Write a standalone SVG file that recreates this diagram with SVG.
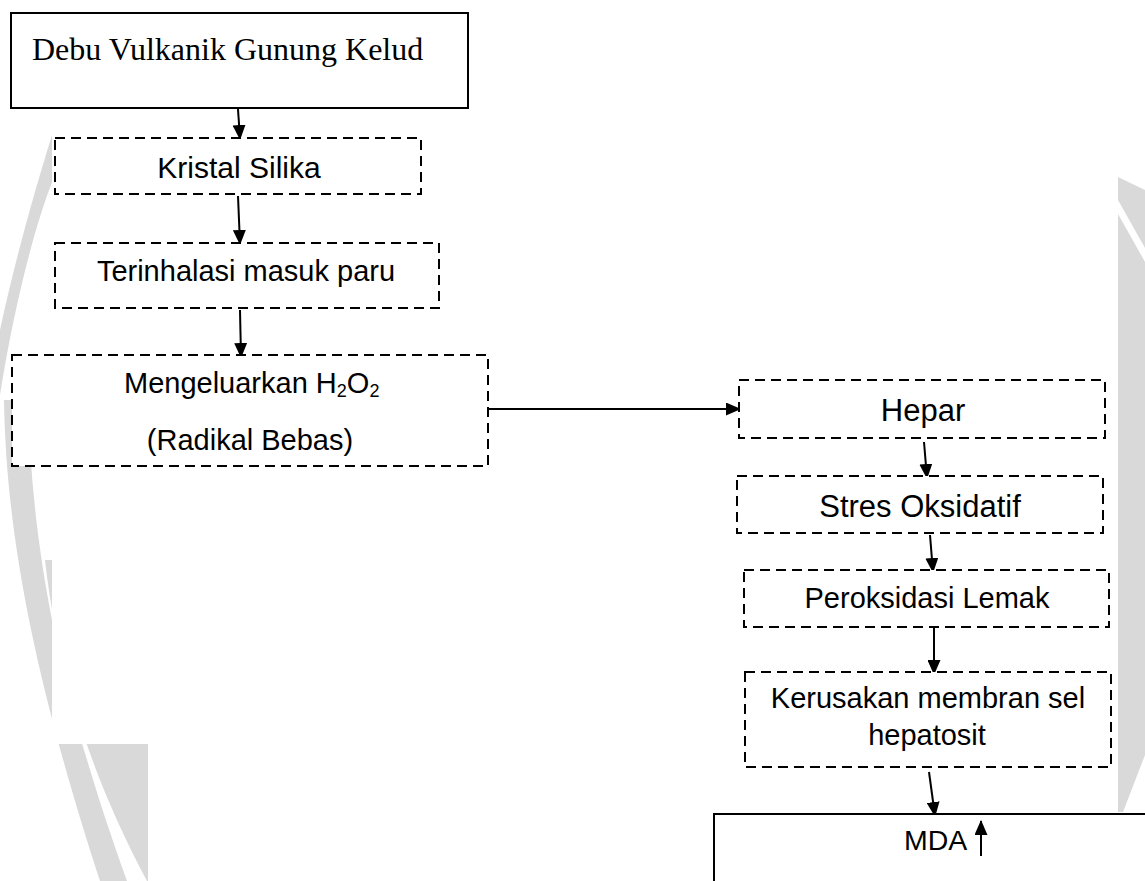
<svg xmlns="http://www.w3.org/2000/svg" width="1145" height="881" viewBox="0 0 1145 881">
  <defs>
    <style>
      .box { fill: #ffffff; stroke: #000000; stroke-width: 2; }
      .dash { fill: #ffffff; stroke: #000000; stroke-width: 2; stroke-dasharray: 10 6; }
      .sans { font-family: "Liberation Sans", Arial, sans-serif; fill: #000000; }
      .serif { font-family: "Liberation Serif", "Times New Roman", serif; fill: #000000; }
      .conn { stroke: #000000; stroke-width: 2; fill: none; marker-end: url(#arrow); }
      .wm { fill: #d9d9d9; }
    </style>
    <marker id="arrow" markerUnits="userSpaceOnUse" viewBox="0 0 15 13" markerWidth="15" markerHeight="13" refX="14" refY="6.5" orient="auto">
      <path d="M0,0 L15,6.5 L0,13 Z" fill="#000000"/>
    </marker>
    <clipPath id="margins">
      <rect x="0" y="0" width="52" height="881"/>
      <rect x="52" y="744" width="96" height="137"/>
      <rect x="1118" y="0" width="27" height="881"/>
    </clipPath>
  </defs>

  <rect x="0" y="0" width="1145" height="881" fill="#ffffff"/>

  <g id="watermark" clip-path="url(#margins)">
    <path class="wm" d="M52,135 C35,190 15,260 0,330 L0,395 C12,320 30,240 52,182 Z"/>
    <path class="wm" d="M4,400 C6,520 28,660 100,881 L127,881 C62,700 32,560 28,400 Z"/>
    <path class="wm" d="M45,560 C55,650 82,760 147,881 L300,881 L300,560 Z"/>
    <path class="wm" d="M1118,177 L1145,190 L1145,755 L1123,812 L1118,812 Z"/>
    <path d="M1118,200 L1145,248 L1145,262 L1118,214 Z" fill="#ffffff"/>
  </g>

  <g id="connectors">
    <line class="conn" x1="238" y1="109" x2="240" y2="139"/>
    <line class="conn" x1="238" y1="196" x2="240" y2="244"/>
    <line class="conn" x1="240" y1="310" x2="241" y2="357"/>
    <line class="conn" x1="488" y1="409" x2="740" y2="409"/>
    <line class="conn" x1="924" y1="442" x2="927" y2="478"/>
    <line class="conn" x1="930" y1="535" x2="933" y2="572"/>
    <line class="conn" x1="934" y1="628" x2="934" y2="674"/>
    <line class="conn" x1="929" y1="772" x2="935" y2="816"/>
  </g>

  <g id="node-debu">
    <rect class="box" x="11" y="13" width="457" height="95"/>
    <text class="serif" x="32" y="60" font-size="32">Debu Vulkanik Gunung Kelud</text>
  </g>

  <g id="node-kristal">
    <rect class="dash" x="55" y="138" width="366" height="56"/>
    <text class="sans" x="239" y="178" font-size="30" text-anchor="middle">Kristal Silika</text>
  </g>

  <g id="node-terinhalasi">
    <rect class="dash" x="55" y="243" width="384" height="65"/>
    <text class="sans" x="246" y="281" font-size="29" text-anchor="middle">Terinhalasi masuk paru</text>
  </g>

  <g id="node-mengeluarkan">
    <rect class="dash" x="12" y="355" width="476" height="111"/>
    <text class="sans" x="124" y="393" font-size="29">Mengeluarkan H<tspan font-size="18" dy="4">2</tspan><tspan dy="-4">O</tspan><tspan font-size="18" dy="4">2</tspan></text>
    <text class="sans" x="250" y="450" font-size="29" text-anchor="middle">(Radikal Bebas)</text>
  </g>

  <g id="node-hepar">
    <rect class="dash" x="739" y="380" width="366" height="58"/>
    <text class="sans" x="923" y="421" font-size="31" text-anchor="middle">Hepar</text>
  </g>

  <g id="node-stres">
    <rect class="dash" x="737" y="476" width="366" height="57"/>
    <text class="sans" x="920" y="517" font-size="31" text-anchor="middle">Stres Oksidatif</text>
  </g>

  <g id="node-peroksidasi">
    <rect class="dash" x="744" y="570" width="365" height="57"/>
    <text class="sans" x="927" y="608" font-size="29" text-anchor="middle">Peroksidasi Lemak</text>
  </g>

  <g id="node-kerusakan">
    <rect class="dash" x="745" y="672" width="366" height="95"/>
    <text class="sans" x="928" y="708" font-size="29" text-anchor="middle">Kerusakan membran sel</text>
    <text class="sans" x="927" y="745" font-size="29" text-anchor="middle">hepatosit</text>
  </g>

  <g id="node-mda">
    <rect class="box" x="714" y="814" width="460" height="100"/>
    <text class="sans" x="904" y="850" font-size="28.5">MDA</text>
    <line x1="981" y1="856" x2="981" y2="821" stroke="#000000" stroke-width="2" marker-end="url(#arrow)"/>
  </g>
</svg>
